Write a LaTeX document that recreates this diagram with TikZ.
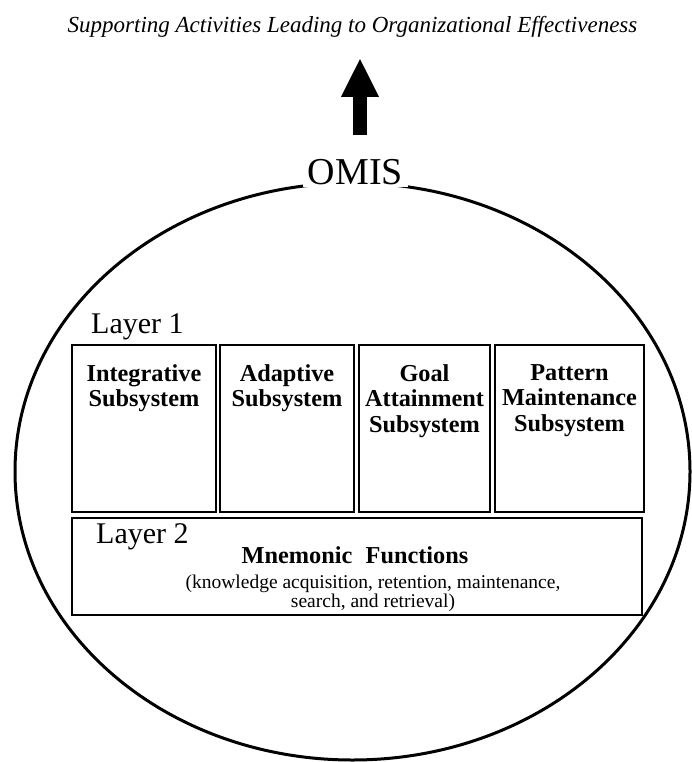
\documentclass[tikz,border=0pt]{standalone}
\usepackage{fontspec}
\setmainfont{Liberation Serif}
\usetikzlibrary{positioning,shapes.geometric,arrows.meta}
\begin{document}
\begin{tikzpicture}[x=1pt,y=-1pt,
  box/.style={draw,line width=1.7pt,inner sep=0pt,minimum height=167pt},
  boxtext/.style={anchor=north,inner sep=0pt,align=center,font=\fontsize{24.3}{25.5}\selectfont\bfseries},
  layer/.style={anchor=base west,inner sep=0pt,font=\fontsize{30}{30}\selectfont}]
\useasboundingbox (0,0) rectangle (691,762);
\node(title) at (352.5,33)[anchor=base,inner sep=0pt,font=\fontsize{23}{23}\selectfont\itshape] {Supporting Activities Leading to Organizational Effectiveness};
\coordinate(foot) at (360,135);
\coordinate(tip) at (360,58);
\path [line width=13.5pt,-{Triangle[length=39pt,width=35pt]}]
  (foot)   edge   (tip);
\node(ring) at (352.5,471.5)[shape=ellipse,draw,line width=3pt,minimum width=675pt,minimum height=577pt] {};
\node(omis) at (355.5,185)[anchor=base,fill=white,inner xsep=5pt,inner ysep=2pt,font=\fontsize{38}{38}\selectfont] {OMIS};
\node(layer1) at (91,333)[layer] {Layer 1};
\node(integ) at (144,428.5)[box,minimum width=144pt] {};
\node(adapt) at (287,428.5)[box,minimum width=134pt] {};
\node(goal) at (424.5,428.5)[box,minimum width=131pt] {};
\node(pattern) at (569.5,428.5)[box,minimum width=149pt] {};
\node(integ-t) [boxtext,below=20pt of integ.north] {Integrative\\Subsystem};
\node(adapt-t) [boxtext,below=20pt of adapt.north] {Adaptive\\Subsystem};
\node(goal-t) [boxtext,below=20pt of goal.north] {Goal\\Attainment\\Subsystem};
\node(pattern-t) [boxtext,below=20pt of pattern.north] {Pattern\\Maintenance\\Subsystem};
\node(mnem) at (357,566.5)[box,minimum width=570pt,minimum height=97pt] {};
\node(layer2) at (96,543)[layer] {Layer 2};
\node(mnem-t) at (355,563)[anchor=base,inner sep=0pt,font=\fontsize{24.3}{25.5}\selectfont\bfseries] {Mnemonic\hspace{0.3em} Functions};
\node(mnem-s) at (373,574.5)[anchor=north,inner sep=0pt,align=center,font=\fontsize{19.5}{19}\selectfont] {(knowledge acquisition, retention, maintenance,\\search, and retrieval)};
\end{tikzpicture}
\end{document}
